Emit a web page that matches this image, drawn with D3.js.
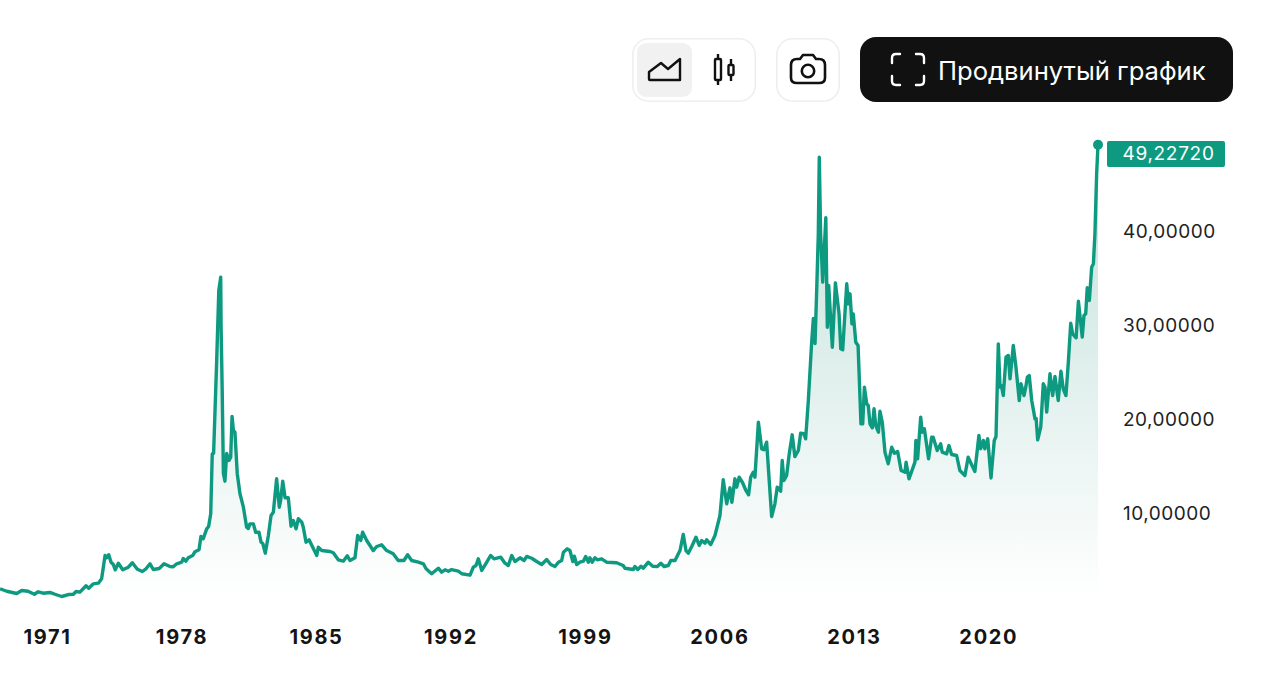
<!DOCTYPE html>
<html>
<head>
<meta charset="utf-8">
<script src="https://cdn.jsdelivr.net/npm/d3@7"></script>
<style>
    html, body { margin: 0; padding: 0; background: #fff; }
    text { font-family: Inter, "Noto Sans", sans-serif; }
    .axis path, .axis line { display: none; }
    .x-axis text { font-size: 20px; font-weight: 700; fill: #141414; letter-spacing: 1.7px; }
    .y-axis text { font-size: 19px; fill: #222; letter-spacing: 0.5px; }
</style>
</head>
<body>
<div id="chart"></div>
<script>
// decimal year of each reading
var years = [
    1968.55,1968.90,1969.42,1969.68,1970.01,1970.34,1970.54,1970.80,1971.15,1971.41,1971.76,1972.11,1972.37,1972.51,1972.71,
    1973.03,1973.17,1973.41,1973.67,1973.84,1974.02,1974.10,1974.21,1974.33,1974.45,1974.55,1974.71,1974.94,1975.23,1975.44,
    1975.70,1975.96,1976.15,1976.36,1976.53,1976.84,1977.09,1977.40,1977.57,1977.75,1978.01,1978.09,1978.22,1978.35,1978.58,
    1978.70,1978.91,1979.01,1979.13,1979.31,1979.41,1979.52,1979.60,1979.67,1979.83,1979.94,1980.04,1980.06,1980.12,1980.18,
    1980.26,1980.35,1980.47,1980.56,1980.63,1980.70,1980.78,1980.90,1981.04,1981.22,1981.39,1981.48,1981.56,1981.74,1981.86,
    1982.03,1982.14,1982.23,1982.36,1982.52,1982.66,1982.78,1982.95,1983.09,1983.16,1983.27,1983.39,1983.56,1983.70,1983.82,
    1983.96,1984.08,1984.26,1984.34,1984.48,1984.64,1985.04,1985.12,1985.30,1985.73,1985.90,1986.16,1986.42,1986.63,1986.77,
    1987.03,1987.17,1987.33,1987.43,1987.64,1987.98,1988.16,1988.42,1988.68,1989.02,1989.28,1989.58,1989.77,1989.98,1990.33,
    1990.59,1990.73,1991.02,1991.37,1991.54,1991.72,1991.89,1992.06,1992.41,1992.59,1993.02,1993.19,1993.33,1993.45,1993.63,
    1993.89,1994.09,1994.27,1994.62,1994.84,1995.01,1995.19,1995.36,1995.62,1995.83,1995.97,1996.23,1996.49,1996.75,1997.01,
    1997.22,1997.44,1997.62,1997.79,1997.88,1998.08,1998.22,1998.37,1998.45,1998.57,1998.74,1998.92,1999.04,1999.18,1999.26,
    1999.38,1999.52,1999.64,1999.87,2000.13,2000.65,2000.99,2001.08,2001.52,2001.60,2001.75,2001.92,2002.04,2002.30,2002.53,
    2002.77,2002.95,2003.12,2003.34,2003.47,2003.69,2003.95,2004.12,2004.26,2004.38,2004.56,2004.78,2004.95,2005.08,2005.25,
    2005.34,2005.55,2005.77,2006.03,2006.20,2006.38,2006.55,2006.65,2006.81,2006.90,2007.03,2007.21,2007.38,2007.52,2007.63,
    2007.76,2007.85,2008.03,2008.20,2008.32,2008.46,2008.72,2008.89,2009.01,2009.19,2009.27,2009.36,2009.50,2009.64,2009.79,
    2009.93,2010.11,2010.23,2010.40,2010.49,2010.63,2010.80,2010.89,2010.98,2011.07,2011.15,2011.20,2011.27,2011.38,2011.54,
    2011.62,2011.69,2011.88,2012.04,2012.23,2012.32,2012.42,2012.63,2012.71,2012.80,2012.90,2012.97,2013.10,2013.22,2013.37,
    2013.46,2013.55,2013.67,2013.75,2013.84,2013.96,2014.05,2014.14,2014.28,2014.36,2014.48,2014.62,2014.79,2014.97,2015.11,
    2015.28,2015.46,2015.66,2015.72,2015.87,2016.18,2016.23,2016.32,2016.48,2016.56,2016.67,2016.89,2017.05,2017.13,2017.34,
    2017.52,2017.60,2017.83,2017.95,2018.09,2018.35,2018.52,2018.78,2018.95,2019.30,2019.51,2019.60,2019.74,2019.82,2019.97,
    2020.14,2020.31,2020.40,2020.52,2020.61,2020.68,2020.78,2020.92,2021.04,2021.13,2021.30,2021.44,2021.61,2021.70,2021.86,
    2021.95,2022.03,2022.13,2022.26,2022.43,2022.49,2022.57,2022.73,2022.86,2022.95,2023.04,2023.21,2023.35,2023.47,2023.64,
    2023.78,2023.90,2024.04,2024.16,2024.29,2024.39,2024.57,2024.69,2024.89,2024.98,2025.07,2025.15,2025.26,2025.38,2025.47,
    2025.55,2025.64,2025.71
];

var prices = [
    1.99,1.73,1.49,1.81,1.73,1.41,1.67,1.52,1.60,1.41,1.17,1.38,1.41,1.70,1.63,
    2.31,2.05,2.52,2.59,3.05,5.53,5.29,5.61,4.82,4.57,4.01,4.71,4.01,4.29,4.76,
    4.07,3.83,4.12,4.65,4.04,4.15,4.65,4.36,4.33,4.65,4.82,5.21,4.93,5.29,5.53,
    5.93,6.14,7.55,7.31,8.37,8.62,9.97,16.35,16.41,26.28,33.72,35.14,29.79,22.77,14.26,
    13.44,16.38,15.64,15.99,20.32,18.83,18.65,14.26,12.13,10.67,8.54,8.40,8.90,8.90,8.01,
    8.01,6.95,6.81,5.78,7.66,9.79,10.14,13.69,10.67,11.38,13.44,11.67,11.67,8.65,9.26,
    8.37,9.44,9.07,8.54,6.95,7.20,5.53,6.41,6.06,5.96,5.82,5.07,4.93,5.50,5.00,
    5.29,7.66,7.13,8.01,7.13,6.06,6.49,6.67,6.06,5.71,5.00,5.00,5.61,5.00,4.82,
    4.65,4.12,3.59,4.18,3.76,4.01,3.86,4.04,3.86,3.59,3.44,4.29,4.47,5.18,3.94,
    4.82,5.53,5.18,5.35,4.71,4.47,5.53,4.89,5.29,5.00,5.43,5.24,4.89,4.57,5.11,
    4.57,4.36,4.82,5.00,5.88,6.24,6.06,4.89,5.46,4.57,4.82,4.93,5.43,4.82,5.29,
    4.82,5.29,5.07,5.18,4.82,4.76,4.47,4.18,4.04,4.36,4.04,4.39,4.18,4.82,4.39,
    4.36,4.71,4.36,4.47,5.00,5.00,6.06,7.77,6.06,5.78,6.49,7.48,6.60,7.13,6.84,
    7.20,6.70,7.66,9.79,13.59,11.03,12.73,11.20,13.69,12.80,13.86,13.27,12.45,11.99,13.86,
    14.39,13.86,19.71,16.88,16.78,17.59,9.68,11.03,12.80,12.37,15.64,13.51,14.04,16.41,18.37,
    16.06,16.70,18.54,18.48,17.95,22.02,28.09,30.74,28.09,34.07,39.79,47.90,39.79,34.61,41.46,
    29.82,34.26,27.69,34.54,31.24,27.52,27.41,34.44,32.31,33.37,30.18,31.24,28.22,27.87,19.54,
    19.54,23.44,21.67,21.49,19.54,19.12,21.14,19.36,18.65,20.88,19.71,16.52,15.29,17.05,16.41,
    16.60,14.57,14.39,15.46,13.69,15.46,17.77,15.82,20.24,18.65,19.01,15.82,18.12,18.12,16.70,
    17.41,16.52,16.35,17.23,16.28,16.17,14.57,14.04,15.99,14.47,18.30,16.88,17.77,16.88,17.95,
    13.78,17.77,18.19,28.05,23.44,23.62,22.55,26.63,26.81,24.33,27.87,25.56,22.02,23.80,22.55,
    23.44,24.50,24.68,22.02,20.07,20.11,17.84,19.18,23.80,23.44,20.78,24.86,22.55,24.57,22.02,
    25.14,23.27,22.55,25.93,30.24,29.12,28.69,32.59,28.76,31.06,31.24,34.01,32.66,36.20,36.56,
    39.79,46.17,49.2272
];

var xTicks = [1971, 1978, 1985, 1992, 1999, 2006, 2013, 2020];
var yTicks = [10, 20, 30, 40];
var buttonLabel = "Продвинутый график";

var data = years.map((d, i) => ({ year: d, price: prices[i] }));
var last = data[data.length - 1];

var width = 1280, height = 690;
var green = "#0e9a80";

var svg = d3.select("#chart").append("svg")
    .attr("width", width)
    .attr("height", height)
    .style("display", "block");

// scales
var x = d3.scaleLinear().domain([1968.55, 2025.71]).range([0, 1098]);
var y = d3.scaleLinear().domain([0, 50]).range([607.5, 137.5]);

var fmt = d => d3.format(".5f")(d).replace(".", ",");

// area gradient
var grad = svg.append("defs").append("linearGradient")
    .attr("id", "fade")
    .attr("gradientUnits", "userSpaceOnUse")
    .attr("x1", 0).attr("x2", 0)
    .attr("y1", y(last.price)).attr("y2", y(0.6));
grad.append("stop").attr("offset", 0).attr("stop-color", "#c2e1da");
grad.append("stop").attr("offset", 1).attr("stop-color", "#ffffff");

var area = d3.area().x(d => x(d.year)).y0(y(0.6)).y1(d => y(d.price));
var line = d3.line().x(d => x(d.year)).y(d => y(d.price));

svg.append("path").datum(data)
    .attr("d", area)
    .attr("fill", "url(#fade)");

svg.append("path").datum(data)
    .attr("d", line)
    .attr("fill", "none")
    .attr("stroke", green)
    .attr("stroke-width", 3.4)
    .attr("stroke-linejoin", "round");

svg.append("circle")
    .attr("cx", x(last.year))
    .attr("cy", y(last.price))
    .attr("r", 5)
    .attr("fill", green);

// axes
svg.append("g")
    .attr("class", "axis x-axis")
    .attr("transform", "translate(0,623)")
    .call(d3.axisBottom(x).tickValues(xTicks).tickFormat(d3.format("d")).tickSize(0).tickPadding(7));

svg.append("g")
    .attr("class", "axis y-axis")
    .attr("transform", "translate(1123,0)")
    .call(d3.axisRight(y).tickValues(yTicks).tickFormat(fmt).tickSize(0).tickPadding(0));

// last price label
svg.append("rect")
    .attr("x", 1107).attr("y", 141)
    .attr("width", 118).attr("height", 26)
    .attr("rx", 2)
    .attr("fill", green);
svg.append("text")
    .attr("x", 1168.5).attr("y", 153)
    .attr("dy", "0.35em")
    .attr("text-anchor", "middle")
    .attr("fill", "#fff")
    .style("font-size", "19px")
    .style("letter-spacing", "0.7px")
    .text(fmt(last.price));

// toolbar
var bar = svg.append("g");
bar.append("rect").attr("x", 632.75).attr("y", 38.75).attr("width", 122.5).attr("height", 62.5)
    .attr("rx", 16).attr("fill", "#fff").attr("stroke", "#eeeeee").attr("stroke-width", 1.5);
bar.append("rect").attr("x", 637).attr("y", 43).attr("width", 55).attr("height", 54)
    .attr("rx", 9).attr("fill", "#f1f1f1");
bar.append("rect").attr("x", 776.75).attr("y", 38.75).attr("width", 62.5).attr("height", 62.5)
    .attr("rx", 16).attr("fill", "#fff").attr("stroke", "#eeeeee").attr("stroke-width", 1.5);
bar.append("rect").attr("x", 860).attr("y", 37).attr("width", 373).attr("height", 65)
    .attr("rx", 16).attr("fill", "#111111");

// area icon
bar.append("path")
    .attr("d", "M649 72L661 63L668 69L680 59V80H650Q649 80 649 79Z")
    .attr("fill", "none").attr("stroke", "#111").attr("stroke-width", 2.4).attr("stroke-linejoin", "round");

// candles icon
bar.append("path")
    .attr("d", "M718 54V85M731 59V81")
    .attr("fill", "none").attr("stroke", "#111").attr("stroke-width", 2.4);
bar.append("rect").attr("x", 715).attr("y", 59).attr("width", 6).attr("height", 21).attr("rx", 1)
    .attr("fill", "#fff").attr("stroke", "#111").attr("stroke-width", 2.4);
bar.append("rect").attr("x", 728.5).attr("y", 65).attr("width", 5).attr("height", 10).attr("rx", 1)
    .attr("fill", "#fff").attr("stroke", "#111").attr("stroke-width", 2.4);

// camera icon
bar.append("path")
    .attr("d", "M797 59H800L803 55H813L816 59H819Q825 59 825 65V78Q825 83 819 83H797Q791 83 791 78V65Q791 59 797 59Z")
    .attr("fill", "none").attr("stroke", "#111").attr("stroke-width", 2.6).attr("stroke-linejoin", "round");
bar.append("circle").attr("cx", 808).attr("cy", 71).attr("r", 6.2)
    .attr("fill", "none").attr("stroke", "#111").attr("stroke-width", 2.6);

// fullscreen corners
bar.append("path")
    .attr("d", "M900 54H896Q892 54 892 58V63M916 54H920Q924 54 924 58V63M900 85H896Q892 85 892 81V76M916 85H920Q924 85 924 81V76")
    .attr("fill", "none").attr("stroke", "#fff").attr("stroke-width", 2.4).attr("stroke-linecap", "round");

bar.append("text")
    .attr("x", 938).attr("y", 71)
    .attr("dy", "0.35em")
    .attr("fill", "#fff")
    .style("font-size", "25.6px")
    .text(buttonLabel);
</script>
</body>
</html>
